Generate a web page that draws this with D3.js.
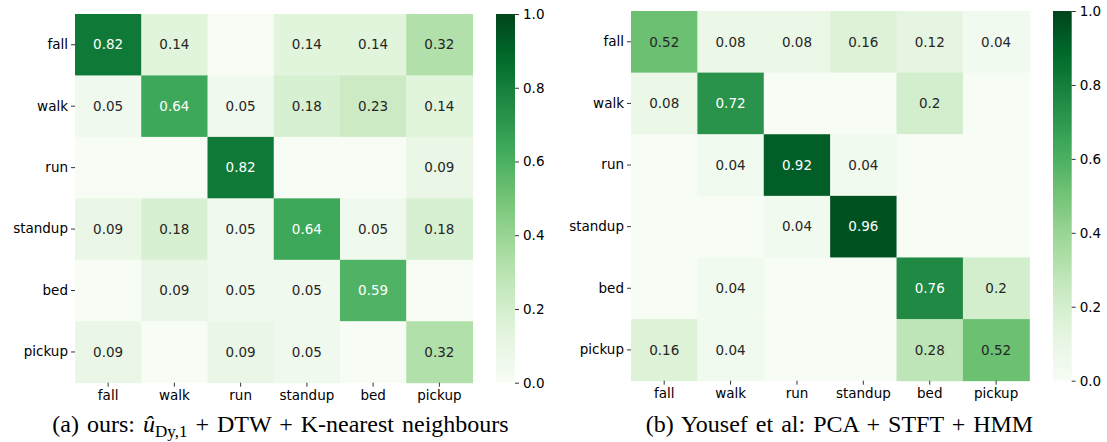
<!DOCTYPE html>
<html>
<head>
<meta charset="utf-8">
<script src="https://cdn.jsdelivr.net/npm/d3@7"></script>
<style>
  body { margin: 0; background: #fff; }
  svg { display: block; }
  .tick text { font-family: "DejaVu Sans", sans-serif; font-size: 13.5px; fill: #000; }
  .tick line { stroke: #000; stroke-width: 0.8; }
  .cap { font-family: "Liberation Serif", "Times New Roman", serif; font-size: 24px; fill: #000; word-spacing: 2px; }
</style>
</head>
<body>
<svg id="chart" width="1107" height="442"></svg>
<script>
// class labels, rows = true, cols = predicted
const classes = ['fall', 'walk', 'run', 'standup', 'bed', 'pickup'];

// (a) ours
const oursValues = [
  [0.82, 0.14, 0,    0.14, 0.14, 0.32],
  [0.05, 0.64, 0.05, 0.18, 0.23, 0.14],
  [0,    0,    0.82, 0,    0,    0.09],
  [0.09, 0.18, 0.05, 0.64, 0.05, 0.18],
  [0,    0.09, 0.05, 0.05, 0.59, 0],
  [0.09, 0,    0.09, 0.05, 0,    0.32]
];

// (b) Yousef et al
const yousefValues = [
  [0.52, 0.08, 0.08, 0.16, 0.12, 0.04],
  [0.08, 0.72, 0,    0,    0.2,  0],
  [0,    0.04, 0.92, 0.04, 0,    0],
  [0,    0,    0.04, 0.96, 0,    0],
  [0,    0.04, 0,    0,    0.76, 0.2],
  [0.16, 0.04, 0,    0,    0.28, 0.52]
];

const colorbarTicks = [0, 0.2, 0.4, 0.6, 0.8, 1.0];

const svg = d3.select('#chart');

// matplotlib Greens = linear segments between the 9 brewer colours
const greens = d3.schemeGreens[9];
const color = d3.scaleLinear()
  .domain(d3.range(9).map(i => i / 8))
  .range(greens)
  .interpolate(d3.interpolateRgb)
  .clamp(true);

// seaborn picks text colour from relative luminance
function textColor(v) {
  const c = d3.rgb(color(v));
  const lin = [c.r, c.g, c.b].map(x => {
    x = x / 255;
    return x <= 0.03928 ? x / 12.92 : Math.pow((x + 0.055) / 1.055, 2.4);
  });
  const lum = 0.2126 * lin[0] + 0.7152 * lin[1] + 0.0722 * lin[2];
  return lum > 0.408 ? '#262626' : '#ffffff';
}

function heatmap(values, box, cbar, id) {
  const g = svg.append('g').attr('class', 'panel-' + id);

  const x = d3.scaleBand().domain(classes).range([box.x0, box.x1]);
  const y = d3.scaleBand().domain(classes).range([box.y0, box.y1]);

  const cells = [];
  values.forEach((row, i) => row.forEach((v, j) => cells.push({ r: classes[i], c: classes[j], v })));

  g.selectAll('rect.cell')
    .data(cells)
    .join('rect')
      .attr('class', 'cell')
      .attr('x', d => x(d.c))
      .attr('y', d => y(d.r))
      .attr('width', x.bandwidth() + 0.5)
      .attr('height', y.bandwidth() + 0.5)
      .attr('fill', d => color(d.v));

  g.selectAll('text.ann')
    .data(cells.filter(d => d.v > 0))
    .join('text')
      .attr('class', 'ann')
      .attr('x', d => x(d.c) + x.bandwidth() / 2)
      .attr('y', d => y(d.r) + y.bandwidth() / 2)
      .attr('dy', '0.35em')
      .attr('text-anchor', 'middle')
      .style('font-family', '"DejaVu Sans", sans-serif')
      .style('font-size', '13.5px')
      .attr('fill', d => textColor(d.v))
      .text(d => String(d.v));

  // axes
  const xAxis = g.append('g')
    .attr('transform', `translate(0,${box.y1})`)
    .call(d3.axisBottom(x).tickSize(4).tickPadding(4));
  xAxis.select('.domain').remove();

  const yAxis = g.append('g')
    .attr('transform', `translate(${box.x0},0)`)
    .call(d3.axisLeft(y).tickSize(4).tickPadding(3));
  yAxis.select('.domain').remove();

  // colorbar
  const gradId = 'grad-' + id;
  const grad = svg.append('defs').append('linearGradient')
    .attr('id', gradId)
    .attr('x1', 0).attr('y1', 1).attr('x2', 0).attr('y2', 0);
  grad.selectAll('stop')
    .data(d3.range(0, 1.0001, 0.05))
    .join('stop')
      .attr('offset', d => d)
      .attr('stop-color', d => color(d));

  const cy = d3.scaleLinear().domain([0, 1]).range([cbar.y1, cbar.y0]);
  g.append('rect')
    .attr('x', cbar.x0)
    .attr('y', cy(1))
    .attr('width', cbar.x1 - cbar.x0)
    .attr('height', cy(0) - cy(1))
    .attr('fill', `url(#${gradId})`);

  const cAxis = g.append('g')
    .attr('transform', `translate(${cbar.x1},0)`)
    .call(d3.axisRight(cy).tickValues(colorbarTicks).tickFormat(d3.format('.1f')).tickSize(4).tickPadding(4));
  cAxis.select('.domain').remove();
}

heatmap(oursValues,
  { x0: 75, x1: 472.5, y0: 14, y1: 382.7 },
  { x0: 496, x1: 515, y0: 14, y1: 382.7 }, 'a');

heatmap(yousefValues,
  { x0: 631, x1: 1029.3, y0: 11, y1: 380.7 },
  { x0: 1053, x1: 1071.7, y0: 11, y1: 380.7 }, 'b');

// captions
const capA = svg.append('text')
  .attr('class', 'cap')
  .attr('x', 280.5)
  .attr('y', 432)
  .attr('text-anchor', 'middle');
capA.append('tspan').text('(a) ours: ');
capA.append('tspan').style('font-style', 'italic').text('\u00fb');
capA.append('tspan').attr('dy', 5).style('font-size', '17px').text('Dy,1');
capA.append('tspan').attr('dy', -5).text(' + DTW + K-nearest neighbours');

svg.append('text')
  .attr('class', 'cap')
  .attr('x', 839.5)
  .attr('y', 432)
  .attr('text-anchor', 'middle')
  .text('(b) Yousef et al: PCA + STFT + HMM');
</script>
</body>
</html>
